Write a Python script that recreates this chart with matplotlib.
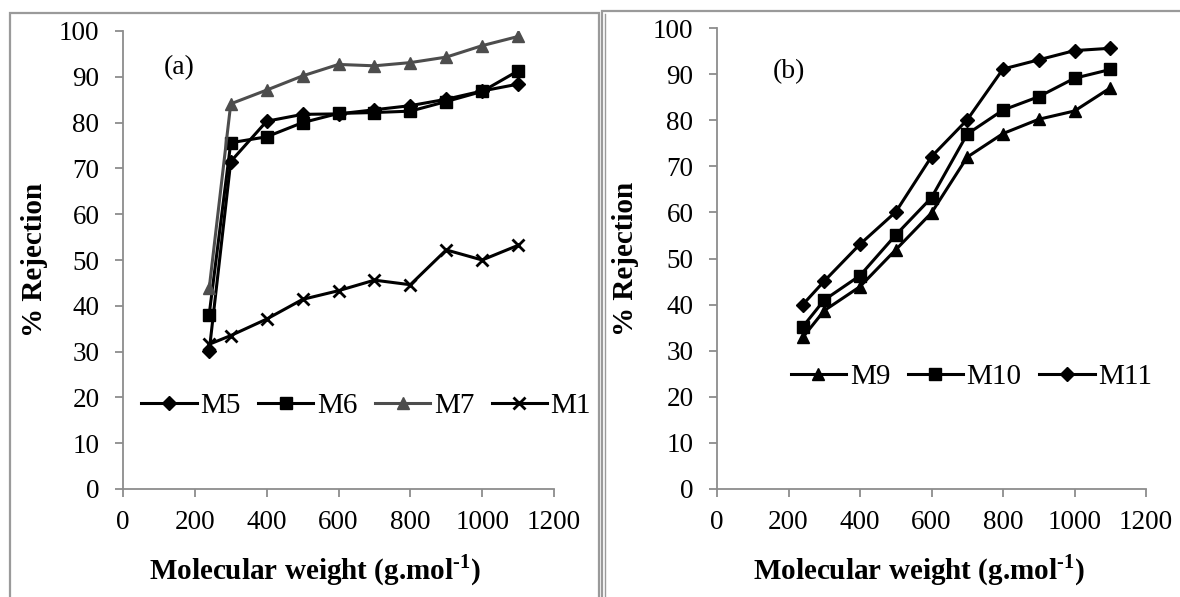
import matplotlib
matplotlib.use("Agg")
import matplotlib.pyplot as plt
from matplotlib.patches import Rectangle
from matplotlib.lines import Line2D

plt.rcParams.update({
    'font.family': 'Liberation Serif',
    'mathtext.fontset': 'custom',
    'mathtext.rm': 'Liberation Serif',
    'mathtext.bf': 'Liberation Serif:bold',
})

# molecular weights (g/mol)
mw = [240, 300, 400, 500, 600, 700, 800, 900, 1000, 1100]

# panel (a)
m5 = [30.1, 71.5, 80.3, 81.8, 81.9, 82.8, 83.7, 85.1, 86.9, 88.4]
m6 = [38.1, 75.6, 76.9, 80.0, 82.0, 82.2, 82.5, 84.6, 86.8, 91.3]
m7 = [43.8, 84.1, 87.1, 90.2, 92.7, 92.4, 93.1, 94.3, 96.8, 98.8]
m1 = [31.6, 33.5, 37.1, 41.4, 43.3, 45.6, 44.6, 52.2, 50.0, 53.2]

# panel (b)
m9 = [32.9, 38.7, 43.9, 51.9, 59.9, 72.0, 77.1, 80.2, 82.0, 87.0]
m10 = [35.2, 41.0, 46.3, 55.1, 63.2, 77.0, 82.2, 85.1, 89.1, 91.0]
m11 = [40.0, 45.1, 53.1, 60.1, 72.1, 80.1, 91.1, 93.1, 95.1, 95.6]

xticks = [0, 200, 400, 600, 800, 1000, 1200]
yticks = list(range(0, 101, 10))

W, H = 1180, 597
fig = plt.figure(figsize=(W / 100, H / 100), dpi=100)

def px_axes(l, r, t, b):
    return fig.add_axes([l / W, 1 - b / H, (r - l) / W, (b - t) / H])

axa = px_axes(123, 554, 31, 489)
axb = px_axes(717, 1146, 28, 489)

grey = '#8c8c8c'
lw = 2.2

def style(ax, lblx, lbly):
    ax.set_xlim(0, 1200)
    ax.set_ylim(0, 100)
    ax.set_xticks(xticks)
    ax.set_yticks(yticks)
    for s in ['top', 'right']:
        ax.spines[s].set_visible(False)
    for s in ['left', 'bottom']:
        ax.spines[s].set_color(grey)
        ax.spines[s].set_linewidth(1.3)
    ax.tick_params(axis='both', direction='out', length=6, width=1.3,
                   color=grey, labelsize=19.5)
    ax.tick_params(axis='x', pad=9)
    ax.tick_params(axis='y', pad=11)
    ax.set_xlabel('Molecular weight (g.mol$^{\\mathbf{\u20101}}$)',
                  fontsize=21, fontweight='bold', va='center')
    ax.xaxis.set_label_coords(lblx, -0.177)
    ax.set_ylabel('% Rejection', fontsize=21, fontweight='bold', va='center')
    ax.yaxis.set_label_coords(lbly, 0.5)
    ax.patch.set_alpha(0)

style(axa, 0.445, -0.206)
style(axb, 0.471, -0.214)

# panel (a)
axa.plot(mw, m5, color='black', lw=lw, marker='D', ms=7, label='M5')
axa.plot(mw, m6, color='black', lw=lw, marker='s', ms=8, label='M6')
axa.plot(mw, m7, color='#4d4d4d', lw=lw, marker='^', ms=9, label='M7')
axa.plot(mw, m1, color='black', lw=lw, marker='x', ms=8, mew=2, label='M1')
axa.text(0.13, 0.921, '(a)', transform=axa.transAxes, fontsize=20,
         ha='center', va='center')
axa.legend(loc='center', bbox_to_anchor=(0.564, 0.181), ncol=4, frameon=False,
           fontsize=21, handlelength=1.9, handletextpad=0.12,
           columnspacing=0.6, borderpad=0, borderaxespad=0)

# panel (b)
axb.plot(mw, m9, color='black', lw=lw, marker='^', ms=9, label='M9')
axb.plot(mw, m10, color='black', lw=lw, marker='s', ms=8, label='M10')
axb.plot(mw, m11, color='black', lw=lw, marker='D', ms=7, label='M11')
axb.text(0.168, 0.905, '(b)', transform=axb.transAxes, fontsize=20,
         ha='center', va='center')
axb.legend(loc='center', bbox_to_anchor=(0.593, 0.243), ncol=3, frameon=False,
           fontsize=21, handlelength=1.9, handletextpad=0.12,
           columnspacing=0.6, borderpad=0, borderaxespad=0)

# panel frames
fc = '#9a9a9a'
fig.add_artist(Rectangle((10 / W, -0.02), (599 - 10) / W, 1 - 13 / H + 0.02,
                         transform=fig.transFigure, fill=False, ec=fc, lw=1.6))
fig.add_artist(Rectangle((602 / W, -0.02), (1185 - 602) / W, 1 - 11 / H + 0.02,
                         transform=fig.transFigure, fill=False, ec=fc, lw=1.6))
fig.add_artist(Line2D([605 / W, 605 / W], [-0.02, 1 - 14 / H],
                      transform=fig.transFigure, color=fc, lw=1.0))

fig.savefig('out.png', dpi=100)
